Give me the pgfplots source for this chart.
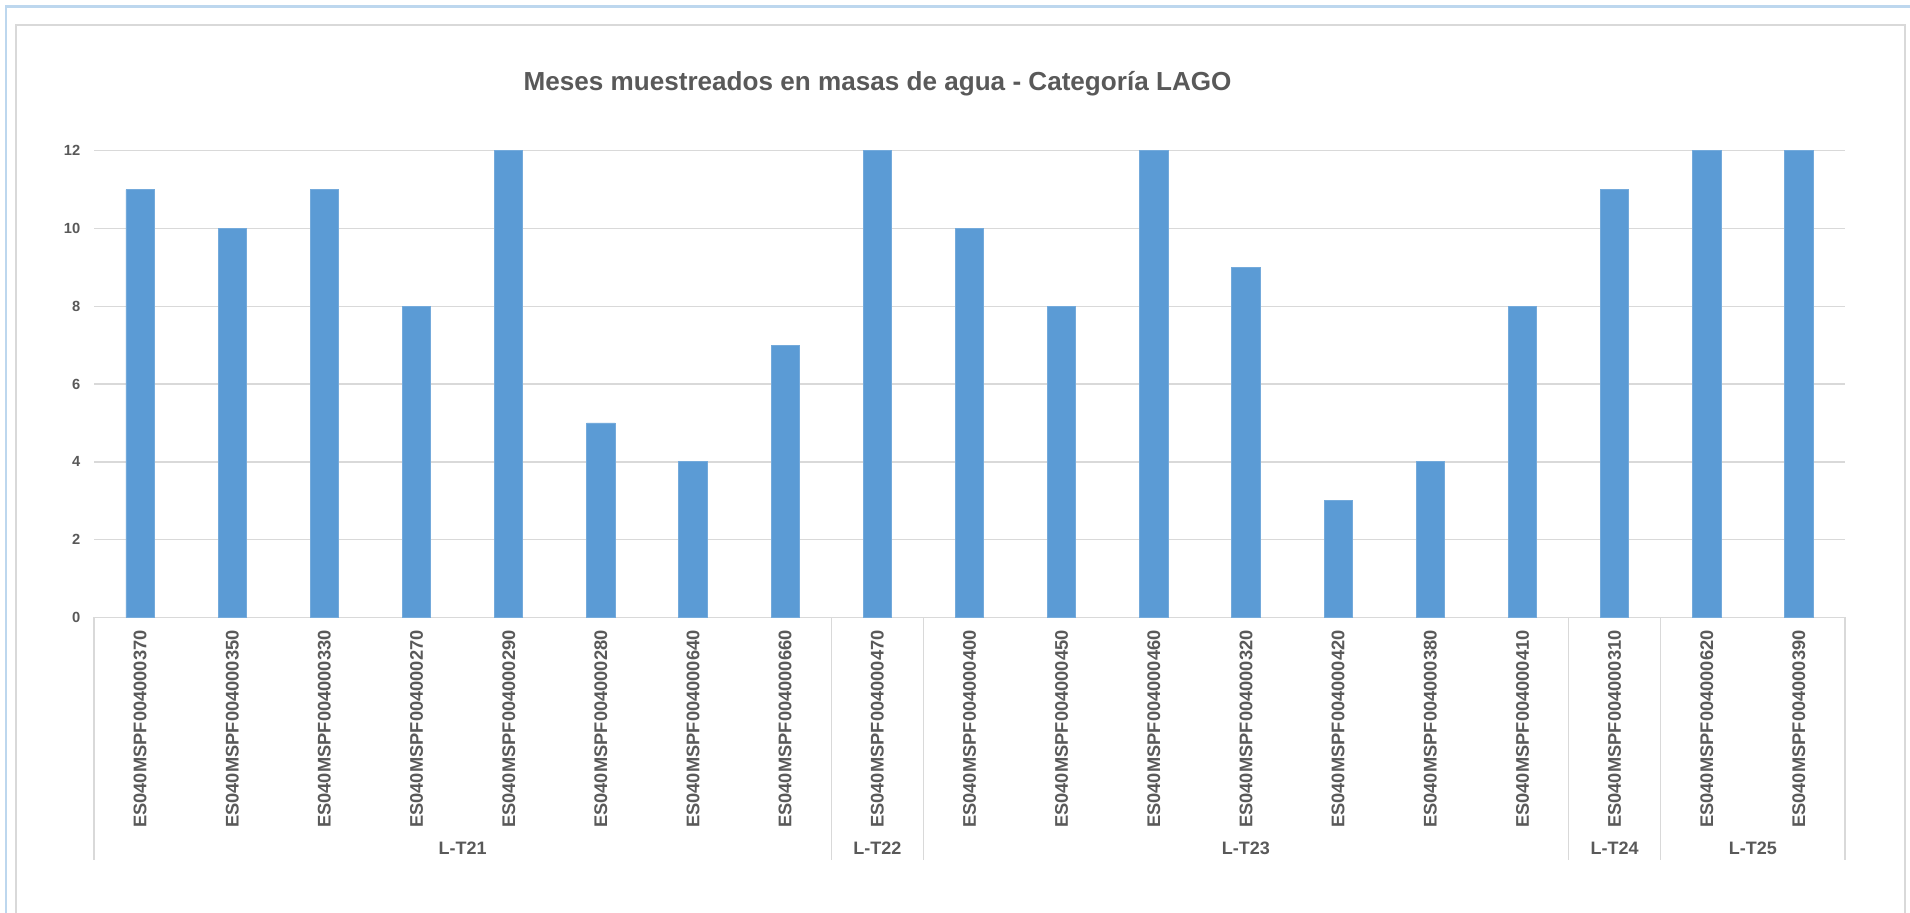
\documentclass[border=0pt]{standalone}
\usepackage{pgfplots}
\pgfplotsset{compat=1.18}
\usepackage{fontspec}
\setmainfont{Liberation Sans}
\definecolor{barblue}{HTML}{5B9BD5}
\definecolor{txtgrey}{HTML}{595959}
\definecolor{gridgrey}{HTML}{D9D9D9}
\definecolor{frameblue}{HTML}{BDD7EE}
\begin{document}
\begin{tikzpicture}
\useasboundingbox (0,0) rectangle (955pt,456.5pt);
\draw[frameblue, line width=1.2pt] (2.85pt,-2pt) -- (2.85pt,453.15pt) -- (960pt,453.15pt);
\draw[gridgrey, line width=0.8pt] (7.85pt,-2pt) -- (7.85pt,444pt) -- (952.5pt,444pt) -- (952.5pt,-2pt);
\begin{axis}[
  at={(47pt,147.75pt)}, anchor=south west,
  scale only axis, width=875.5pt, height=233.4pt,
  clip=false,
  xmin=-0.5, xmax=18.5, ymin=0, ymax=12,
  ytick={0,2,4,6,8,10,12},
  xtick={0,...,18},
  xticklabels={ES040MSPF004000370,ES040MSPF004000350,ES040MSPF004000330,ES040MSPF004000270,ES040MSPF004000290,ES040MSPF004000280,ES040MSPF004000640,ES040MSPF004000660,ES040MSPF004000470,ES040MSPF004000400,ES040MSPF004000450,ES040MSPF004000460,ES040MSPF004000320,ES040MSPF004000420,ES040MSPF004000380,ES040MSPF004000410,ES040MSPF004000310,ES040MSPF004000620,ES040MSPF004000390},
  axis line style={draw=none},
  major tick length=0pt,
  ymajorgrids, grid style={gridgrey, line width=0.65pt},
  /pgf/number format/assume math mode=true,
  tick label style={text=txtgrey},
  xticklabel style={font=\fontsize{9.15}{10}\selectfont\bfseries, rotate=90, anchor=east, inner sep=0pt},
  xticklabel shift=6.25pt,
  yticklabel style={font=\fontsize{7.35}{8}\selectfont\bfseries, anchor=east, inner sep=0pt},
  yticklabel shift=6.65pt,
]
\addplot[ybar, bar width=14.15pt, fill=barblue, draw=barblue!85!white, line width=0.4pt] coordinates {
 (0,11) (1,10) (2,11) (3,8) (4,12) (5,5) (6,4) (7,7) (8,12) (9,10)
 (10,8) (11,12) (12,9) (13,3) (14,4) (15,8) (16,11) (17,12) (18,12)
};
\draw[gridgrey, line width=0.65pt] (axis cs:-0.5,0) -- ++(0pt,-121.25pt);
\draw[gridgrey, line width=0.65pt] (axis cs:7.5,0) -- ++(0pt,-121.25pt);
\draw[gridgrey, line width=0.65pt] (axis cs:8.5,0) -- ++(0pt,-121.25pt);
\draw[gridgrey, line width=0.65pt] (axis cs:15.5,0) -- ++(0pt,-121.25pt);
\draw[gridgrey, line width=0.65pt] (axis cs:16.5,0) -- ++(0pt,-121.25pt);
\draw[gridgrey, line width=0.65pt] (axis cs:18.5,0) -- ++(0pt,-121.25pt);
\node[anchor=base, font=\fontsize{9}{10}\selectfont\bfseries, text=txtgrey] at ([yshift=-118.75pt]axis cs:3.5,0) {L-T21};
\node[anchor=base, font=\fontsize{9}{10}\selectfont\bfseries, text=txtgrey] at ([yshift=-118.75pt]axis cs:8,0) {L-T22};
\node[anchor=base, font=\fontsize{9}{10}\selectfont\bfseries, text=txtgrey] at ([yshift=-118.75pt]axis cs:12,0) {L-T23};
\node[anchor=base, font=\fontsize{9}{10}\selectfont\bfseries, text=txtgrey] at ([yshift=-118.75pt]axis cs:16,0) {L-T24};
\node[anchor=base, font=\fontsize{9}{10}\selectfont\bfseries, text=txtgrey] at ([yshift=-118.75pt]axis cs:17.5,0) {L-T25};
\end{axis}
\node[anchor=base, font=\fontsize{13.05}{15}\selectfont\bfseries, text=txtgrey] at (438.8pt,411.15pt) {Meses muestreados en masas de agua - Categoría LAGO};
\end{tikzpicture}
\end{document}
